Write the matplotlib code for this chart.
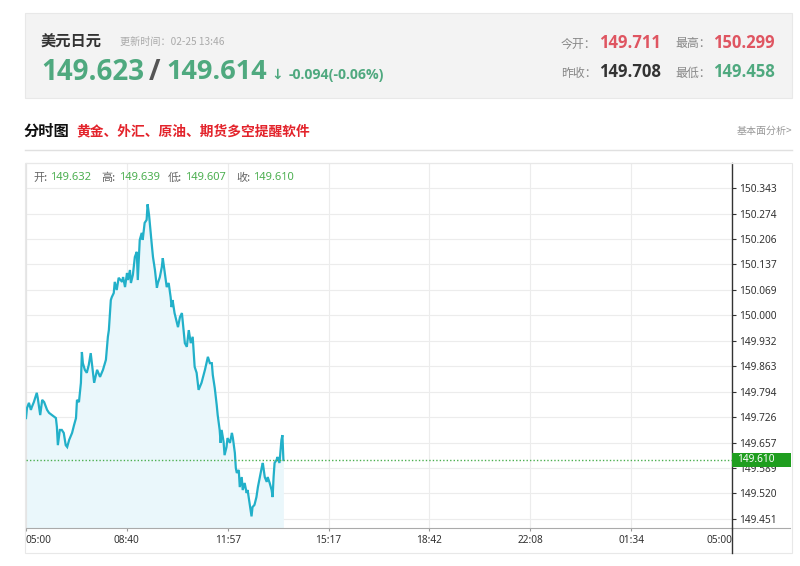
import matplotlib
matplotlib.use("Agg")
import matplotlib.pyplot as plt
from matplotlib.patches import Rectangle
from matplotlib.lines import Line2D
import matplotlib.transforms as mtransforms

plt.rcParams['font.family'] = ['Noto Sans CJK SC', 'DejaVu Sans']

# ---------------- data ----------------
title_name = "美元日元"
update_time = "更新时间：02-25 13:46"
bid_price = "149.623"
ask_price = "149.614"
change_text = "-0.094(-0.06%)"
open_today = "149.711"
high_today = "150.299"
prev_close = "149.708"
low_today = "149.458"
bar_open, bar_high, bar_low, bar_close = "149.632", "149.639", "149.607", "149.610"
last_price = 149.610

x_tick_labels = ["05:00", "08:40", "11:57", "15:17", "18:42", "22:08", "01:34", "05:00"]
y_tick_labels = ["150.343", "150.274", "150.206", "150.137", "150.069", "150.000", "149.932",
                 "149.863", "149.794", "149.726", "149.657", "149.589", "149.520", "149.451"]

# minutes since 05:00
minutes = [0, 2, 6, 10, 12, 16, 22, 24, 29, 33, 37, 43, 47, 53, 61, 63, 65, 69, 73, 77, 81, 84, 88, 94,
           98, 102, 104, 108, 112, 114, 116, 120, 124, 128, 132, 139, 145, 151, 157, 163, 167, 169, 173,
           175, 179, 181, 185, 189, 196, 198, 202, 206, 208, 212, 214, 218, 222, 226, 228, 232, 236, 238,
           242, 246, 248, 251, 255, 257, 259, 263, 267, 269, 273, 277, 279, 283, 287, 291, 295, 297, 299,
           303, 308, 310, 314, 318, 320, 324, 328, 332, 336, 340, 344, 348, 352, 358, 365, 371, 375, 379,
           381, 385, 389, 391, 395, 397, 399, 403, 405, 409, 411, 416, 420, 422, 426, 428, 430, 434, 436,
           440, 442, 446, 450, 452, 456, 460, 462, 466, 470, 473, 477, 481, 483, 487, 491, 493, 497, 501,
           503, 505, 507, 511, 513, 517, 521, 523, 525]
prices = [149.723, 149.750, 149.764, 149.745, 149.753, 149.766, 149.791, 149.777, 149.731, 149.772,
          149.766, 149.745, 149.737, 149.731, 149.723, 149.699, 149.650, 149.691, 149.691, 149.683,
          149.650, 149.645, 149.664, 149.683, 149.704, 149.723, 149.772, 149.766, 149.818, 149.901,
          149.871, 149.853, 149.845, 149.866, 149.898, 149.818, 149.853, 149.834, 149.853, 149.880,
          149.942, 149.960, 150.041, 150.049, 150.060, 150.090, 150.068, 150.101, 150.090, 150.103,
          150.076, 150.114, 150.095, 150.122, 150.087, 150.109, 150.157, 150.171, 150.095, 150.203,
          150.222, 150.203, 150.249, 150.257, 150.299, 150.270, 150.211, 150.184, 150.157, 150.122,
          150.074, 150.087, 150.103, 150.130, 150.154, 150.114, 150.076, 150.087, 150.049, 150.022,
          150.041, 150.006, 149.979, 149.968, 149.995, 150.006, 149.979, 149.925, 149.915, 149.960,
          149.925, 149.942, 149.861, 149.845, 149.799, 149.818, 149.853, 149.888, 149.871, 149.871,
          149.839, 149.804, 149.758, 149.731, 149.691, 149.656, 149.691, 149.659, 149.623, 149.645,
          149.669, 149.656, 149.683, 149.669, 149.629, 149.588, 149.575, 149.583, 149.537, 149.564,
          149.529, 149.548, 149.521, 149.529, 149.494, 149.458, 149.483, 149.489, 149.510, 149.537,
          149.564, 149.591, 149.602, 149.564, 149.551, 149.564, 149.548, 149.529, 149.510, 149.564,
          149.602, 149.610, 149.618, 149.602, 149.664, 149.677, 149.610]

# ---------------- layout helpers ----------------
W, H = 800, 566
fig = plt.figure(figsize=(W / 100, H / 100), dpi=100)
fig.patch.set_facecolor("white")

def fx(x):
    return x / W

def fy(y):
    return 1 - y / H

def frect(x0, y0, x1, y1, **kw):
    r = Rectangle((fx(x0), fy(y1)), fx(x1) - fx(x0), fy(y0) - fy(y1), transform=fig.transFigure, **kw)
    fig.add_artist(r)

def fline(x0, y0, x1, y1, **kw):
    fig.add_artist(Line2D([fx(x0), fx(x1)], [fy(y0), fy(y1)], transform=fig.transFigure, **kw))

def ftext(x, y, s, **kw):
    kw.setdefault("va", "center")
    kw.setdefault("ha", "left")
    fig.text(fx(x), fy(y), s, **kw)

GREEN = "#4fa97f"
RED = "#df5561"
NUMF = ["Open Sans", "DejaVu Sans"]

# ---------------- header box ----------------
frect(25, 13, 792, 98, facecolor="#f3f3f3", edgecolor="#e8e8e8", lw=0.8)
ftext(41, 42, title_name, fontsize=11, fontweight="bold", color="#333333")
ftext(120, 42, update_time, fontsize=7.3, color="#aaaaaa")
ftext(41, 72, bid_price, fontsize=20, fontweight="bold", color=GREEN, family=NUMF)
ftext(149, 72, "/", fontsize=20, fontweight="bold", color="#555555", family=NUMF)
ftext(166, 72, ask_price, fontsize=19.5, fontweight="bold", color=GREEN, family=NUMF)
ftext(271, 75, "↓", fontsize=10, fontweight="bold", color=GREEN, family=["DejaVu Sans"])
ftext(289, 75, change_text, fontsize=10.2, fontweight="bold", color=GREEN, family=NUMF)

ftext(561, 44, "今开：", fontsize=8.6, color="#888888")
ftext(599, 43, open_today, fontsize=12, fontweight="bold", color=RED, family=NUMF)
ftext(675, 44, "最高：", fontsize=8.6, color="#888888")
ftext(713, 43, high_today, fontsize=12, fontweight="bold", color=RED, family=NUMF)
ftext(561, 73, "昨收：", fontsize=8.6, color="#888888")
ftext(599, 72, prev_close, fontsize=12, fontweight="bold", color="#333333", family=NUMF)
ftext(675, 73, "最低：", fontsize=8.6, color="#888888")
ftext(713, 72, low_today, fontsize=12, fontweight="bold", color=GREEN, family=NUMF)

# ---------------- section title ----------------
ftext(24, 131, "分时图", fontsize=11, fontweight="bold", color="#111111")
ftext(76, 131, "黄金、外汇、原油、期货多空提醒软件", fontsize=9.9, fontweight="bold", color="#e3232b")
ftext(792, 131, "基本面分析>", fontsize=7.2, color="#999999", ha="right")
fline(25, 150, 792, 150, color="#e0e0e0", lw=1)

# chart box
frect(25, 163, 792, 553, facecolor="none", edgecolor="#e8e8e8", lw=0.8)

# ---------------- chart axes ----------------
x_left, x_right, y_top, y_bot = 26, 732, 163, 528
ax = fig.add_axes([fx(x_left), fy(y_bot), fx(x_right) - fx(x_left), fy(y_top) - fy(y_bot)])
ax.set_facecolor("none")

day_len = 1440
xt = [i * day_len / 7 for i in range(8)]
yt = [float(v) for v in y_tick_labels]
ymin, ymax = 149.4267, 150.4104
ax.set_xlim(0, day_len)
ax.set_ylim(ymin, ymax)

ax.fill_between(minutes, prices, ymin, color="#eaf7fb", lw=0, zorder=1)
ax.plot(minutes, prices, color="#22b0c9", lw=1.6, zorder=3, solid_joinstyle="miter")
ax.axhline(last_price, color="#4caf50", lw=1, ls=(0, (1, 1.5)), zorder=4)

ax.set_xticks(xt)
ax.set_xticklabels(x_tick_labels)
ax.set_yticks(yt)
ax.set_yticklabels(y_tick_labels)
ax.yaxis.tick_right()
ax.tick_params(axis="y", direction="out", length=3, width=0.8, color="#333333", pad=2,
               labelsize=7.3, labelcolor="#333333")
ax.tick_params(axis="x", direction="out", length=2, width=0.8, color="#999999", pad=3,
               labelsize=7.3, labelcolor="#333333")
for lab in ax.get_xticklabels() + ax.get_yticklabels():
    lab.set_family(["Noto Sans", "DejaVu Sans"])
xl = ax.get_xticklabels()
xl[0].set_ha("left")
xl[-1].set_ha("right")

ax.grid(True, color="#ececec", lw=0.8, zorder=0)
ax.set_axisbelow(True)
ax.spines["right"].set_color("#333333")
ax.spines["right"].set_linewidth(1)
ax.spines["bottom"].set_color("#aaaaaa")
ax.spines["left"].set_color("#e4e4e4")
ax.spines["top"].set_color("#e4e4e4")
for s in ["left", "top"]:
    ax.spines[s].set_linewidth(0.8)

# extensions of axes lines into the right margin / bottom
fline(732, 528, 790, 528, color="#aaaaaa", lw=0.8)
fline(732, 528, 732, 553, color="#333333", lw=1)

# current price tag
trans = mtransforms.blended_transform_factory(ax.transAxes, ax.transData)
tag_h = 14 / 365 * (ymax - ymin)
ax.add_patch(Rectangle((1.0, last_price - tag_h / 2), 59 / 706, tag_h, transform=trans,
                       facecolor="#1f9e1f", edgecolor="none", clip_on=False, zorder=10))
ax.text(1.0 + 5 / 706, last_price, f"{last_price:.3f}", transform=trans, color="white",
        fontsize=7.3, va="center", ha="left", zorder=11, family=["Noto Sans", "DejaVu Sans"])

# OHLC info row
items = [(33, "开:", 50, bar_open), (101, "高:", 119, bar_high), (168, "低:", 185, bar_low),
         (236, "收:", 253, bar_close)]
for lx, lt, vx, vt in items:
    ftext(lx, 178, lt, fontsize=8, color="#666666")
    ftext(vx, 178, vt, fontsize=8, color="#4caf50", family=["Noto Sans", "DejaVu Sans"])

fig.savefig("out.png", dpi=100)
